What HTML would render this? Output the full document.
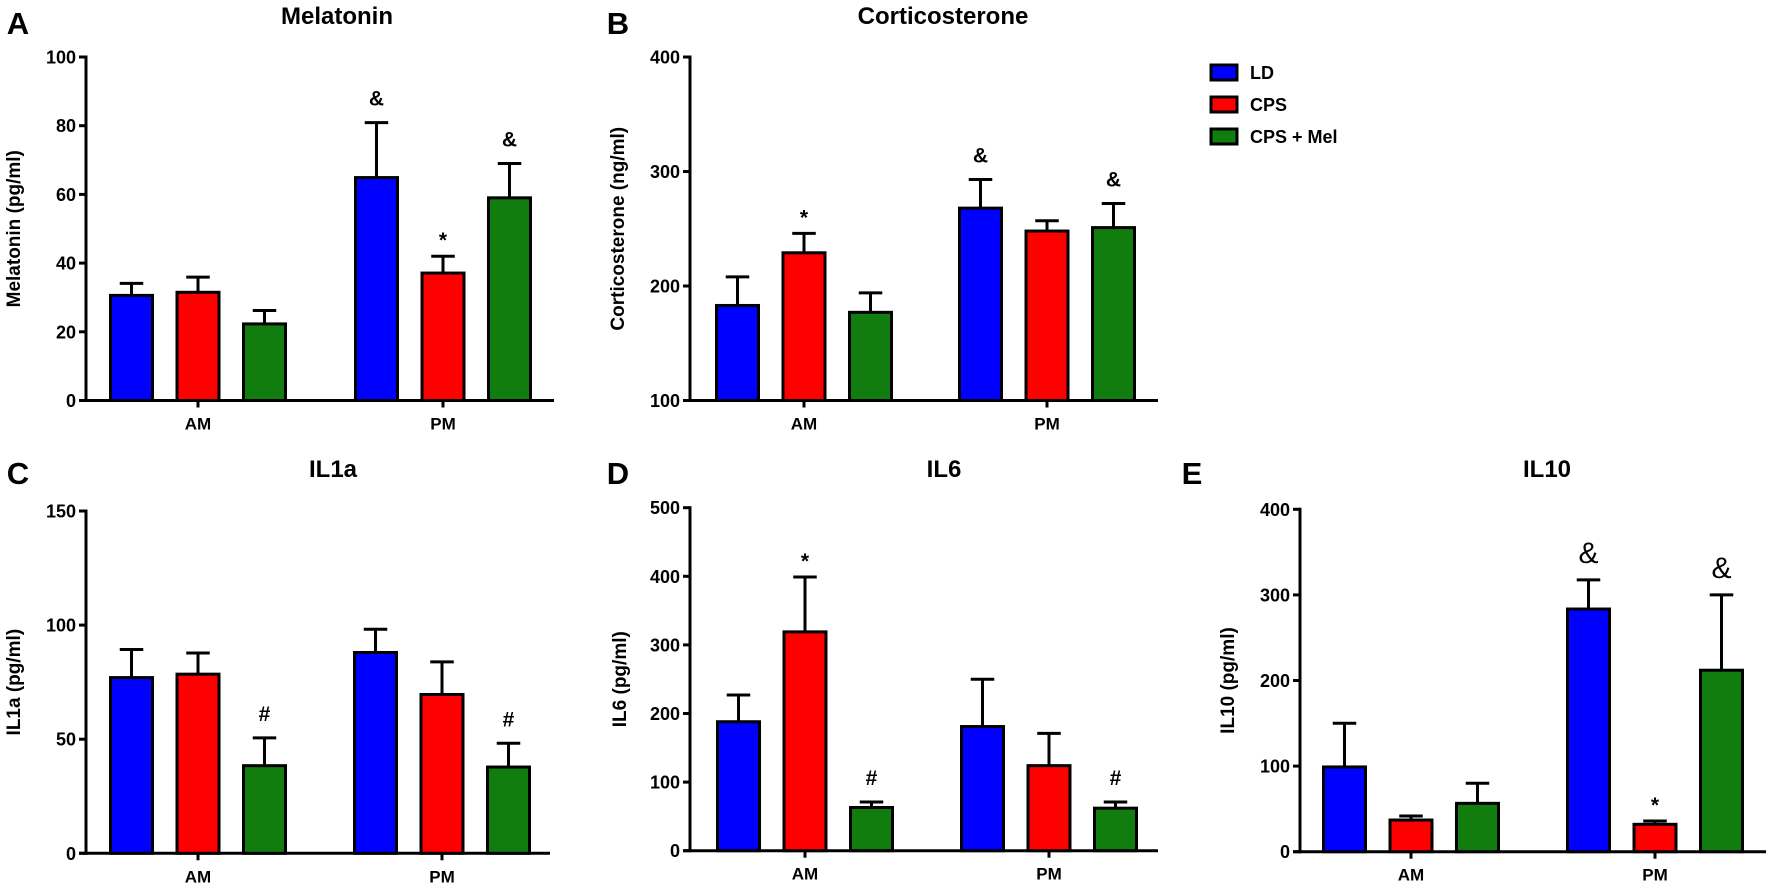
<!DOCTYPE html>
<html><head><meta charset="utf-8"><style>
html,body{margin:0;padding:0;background:#fff}
svg{display:block;font-family:"Liberation Sans",Arial,sans-serif;font-weight:bold}
</style></head><body>
<svg id="fig" width="1771" height="885" viewBox="0 0 1771 885"></svg>
<script>
const groups = ["AM","PM"];
const seriesNames = ["LD","CPS","CPS + Mel"];
const colors = ["#0000ff","#ff0000","#117d0f"];
// Panel A Melatonin
const melMean = [[30.6,31.5,22.3],[64.9,37.1,59]];
const melErr = [[34.1,35.9,26.2],[80.9,42,69]];
const melMarks = [["","",""],["&","*","&"]];
const melTicks = [0,20,40,60,80,100];
// Panel B Corticosterone
const corMean = [[183,229,177],[268,248,251]];
const corErr = [[208,246,194],[293,257,272]];
const corMarks = [["","*",""],["&","","&"]];
const corTicks = [100,200,300,400];
// Panel C IL1a
const il1Mean = [[77,78.5,38.4],[88,69.6,37.8]];
const il1Err = [[89.3,87.8,50.6],[98.2,83.9,48.2]];
const il1Marks = [["","","#"],["","","#"]];
const il1Ticks = [0,50,100,150];
// Panel D IL6
const il6Mean = [[188,319,63],[181,124,62]];
const il6Err = [[227,399,71],[250,171,71]];
const il6Marks = [["","*","#"],["","","#"]];
const il6Ticks = [0,100,200,300,400,500];
// Panel E IL10
const il10Mean = [[99,37,56.5],[283.5,32,212]];
const il10Err = [[150,41.7,80],[317.5,35.8,300]];
const il10Marks = [["","",""],["&","*","&"]];
const il10Ticks = [0,100,200,300,400];

const NS="http://www.w3.org/2000/svg";
const svg=document.getElementById('fig');
function mk(tag,attrs,parent){const e=document.createElementNS(NS,tag);for(const k in attrs)e.setAttribute(k,attrs[k]);(parent||svg).appendChild(e);return e;}

function panel(cfg){
  const g=mk('g',{});
  
  
  const ymin=cfg.ticks[0], ymax=cfg.ticks[cfg.ticks.length-1];
  const y=v=>cfg.y0+(v-ymin)/(ymax-ymin)*(cfg.yTop-cfg.y0);
  const L=mk('text',{x:cfg.lx,y:cfg.ly,'font-size':31,'text-anchor':'middle'},g);L.textContent=cfg.letter;
  
  
  const T=mk('text',{x:cfg.tx,y:cfg.ty,'font-size':24,'text-anchor':'middle'},g);T.textContent=cfg.title;
  
  
  const yt=mk('text',{x:0,y:0,'font-size':19,'text-anchor':'middle',transform:`translate(${cfg.ytx},${(cfg.yTop+cfg.y0)/2}) rotate(-90)`},g);yt.textContent=cfg.ylabel;
  
  
  const ya=mk('line',{x1:cfg.ax,y1:y(ymax)-1.5,x2:cfg.ax,y2:cfg.y0+1.5,stroke:'#000','stroke-width':3},g);
  
  
  const xa=mk('line',{x1:cfg.ax-7,y1:cfg.y0,x2:cfg.axEnd,y2:cfg.y0,stroke:'#000','stroke-width':3},g);
  
  
  cfg.ticks.forEach(t=>{
    mk('line',{x1:cfg.ax-7,y1:y(t),x2:cfg.ax,y2:y(t),stroke:'#000','stroke-width':3},g);
    const tl=mk('text',{x:cfg.ax-10,y:y(t)+6.5,'font-size':18,'text-anchor':'end'},g);tl.textContent=t;
    
    
  });
  groups.forEach((grp,gi)=>{
    const cx=cfg.gx[gi];
    mk('line',{x1:cx,y1:cfg.y0,x2:cx,y2:cfg.y0+7,stroke:'#000','stroke-width':3},g);
    const gl=mk('text',{x:cx,y:cfg.y0+29,'font-size':17,'text-anchor':'middle'},g);gl.textContent=grp;
    
    
    for(let s=0;s<3;s++){
      const bx=cx+(s-1)*cfg.sp, w=cfg.bw;
      const m=cfg.mean[gi][s], e=cfg.err[gi][s];
      const el=mk('line',{x1:bx,y1:y(m),x2:bx,y2:y(e),stroke:'#000','stroke-width':3},g);
      
      
      mk('line',{x1:bx-w*0.28,y1:y(e),x2:bx+w*0.28,y2:y(e),stroke:'#000','stroke-width':3},g);
      const r=mk('rect',{x:bx-w/2,y:y(m),width:w,height:cfg.y0-y(m),fill:colors[s],stroke:'#000','stroke-width':3},g);
      
      
      const mkTxt=cfg.marks[gi][s];
      if(mkTxt){
        const off=mkTxt==='*'?9:17;
        const mt=mk('text',{x:bx,y:y(e)-off,'font-size':mkTxt==='&'&&cfg.bigAmp?30:21,'font-weight':mkTxt==='&'&&cfg.bigAmp?'normal':'bold','text-anchor':'middle'},g);
        mt.textContent=mkTxt;
        
        
      }
    }
  });
}
panel({name:'melatonin',letter:'A',lx:18,ly:34,title:'Melatonin',tx:337,ty:24,ylabel:'Melatonin (pg/ml)',ytx:20,
  ax:86,axEnd:554,y0:400.5,yTop:57,ticks:melTicks,gx:[198,443],sp:66.5,bw:42,mean:melMean,err:melErr,marks:melMarks});
panel({name:'corticosterone',letter:'B',lx:618,ly:34,title:'Corticosterone',tx:943,ty:24,ylabel:'Corticosterone (ng/ml)',ytx:624,
  ax:690,axEnd:1158,y0:400.5,yTop:57,ticks:corTicks,gx:[804,1047],sp:66.5,bw:42,mean:corMean,err:corErr,marks:corMarks});
panel({name:'il1a',letter:'C',lx:18,ly:484,title:'IL1a',tx:333,ty:477,ylabel:'IL1a (pg/ml)',ytx:20,
  ax:86,axEnd:550,y0:853.3,yTop:511,ticks:il1Ticks,gx:[198,442],sp:66.5,bw:42,mean:il1Mean,err:il1Err,marks:il1Marks});
panel({name:'il6',letter:'D',lx:618,ly:484,title:'IL6',tx:944,ty:477,ylabel:'IL6 (pg/ml)',ytx:626,
  ax:690,axEnd:1158,y0:850.7,yTop:507.7,ticks:il6Ticks,gx:[805,1049],sp:66.5,bw:42,mean:il6Mean,err:il6Err,marks:il6Marks});
panel({name:'il10',letter:'E',lx:1192,ly:484,title:'IL10',tx:1547,ty:477,ylabel:'IL10 (pg/ml)',ytx:1234,
  ax:1300,axEnd:1766,y0:851.7,yTop:509.3,ticks:il10Ticks,gx:[1411,1655],sp:66.5,bw:42,mean:il10Mean,err:il10Err,marks:il10Marks,bigAmp:true});
const lg=mk('g',{});


seriesNames.forEach((n,i)=>{
  const yy=65+i*32;
  const r=mk('rect',{x:1211,y:yy,width:26,height:15,fill:colors[i],stroke:'#000','stroke-width':3},lg);
  
  
  const t=mk('text',{x:1250,y:yy+14,'font-size':18},lg);t.textContent=n;
  
  
});
</script>
</body></html>
